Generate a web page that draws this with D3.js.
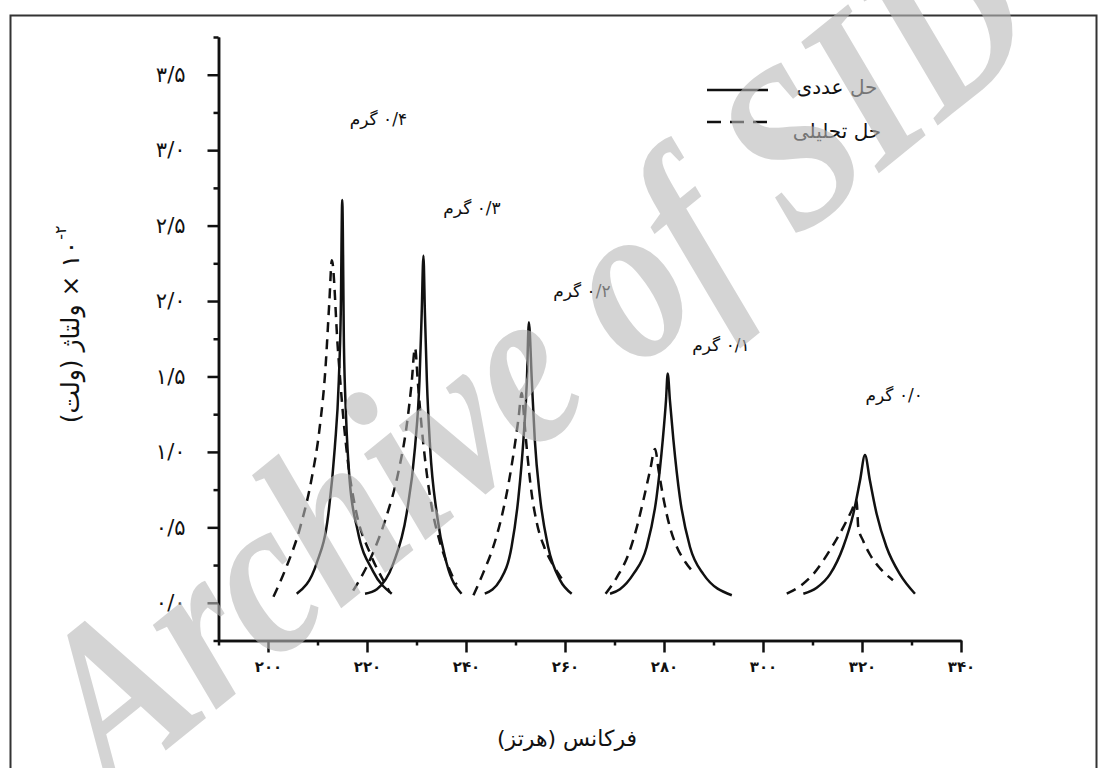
<!DOCTYPE html>
<html>
<head>
<meta charset="utf-8">
<script src="https://cdn.jsdelivr.net/npm/d3@7"></script>
<style>
  body { margin: 0; background: #fff; }
  svg text { font-family: "DejaVu Sans", sans-serif; fill: #111; }
</style>
</head>
<body>
<svg id="chart"></svg>
<script>
// mass labels (grams) for the five resonance peaks
var massLabels = ["۰/۴ گرم", "۰/۳ گرم", "۰/۲ گرم", "۰/۱ گرم", "۰/۰ گرم"];
var legendLabels = ["حل عددی", "حل تحلیلی"];
var xTicks = [200, 220, 240, 260, 280, 300, 320, 340];
var yTicks = [0, 0.5, 1, 1.5, 2, 2.5, 3, 3.5];

// numerical solution (solid), frequency in Hz / voltage x 10^-2
var numF04 = [205.8, 209.8, 212.2, 213.5, 214.3, 214.7, 215.0, 215.35, 215.75, 216.5, 218.1, 221.2, 225.0];
var numV04 = [0.06, 0.26, 0.59, 1.03, 1.47, 1.92, 2.67, 1.69, 1.25, 0.81, 0.48, 0.21, 0.06];
var numF03 = [219.6, 222.0, 225.3, 228.0, 229.7, 230.6, 231.05, 231.4, 231.7, 232.1, 232.75, 234.1, 236.1, 239.1];
var numV03 = [0.06, 0.09, 0.26, 0.59, 1.03, 1.47, 1.92, 2.30, 1.92, 1.47, 1.03, 0.59, 0.26, 0.06];
var numF02 = [243.8, 246.9, 249.2, 250.6, 251.6, 252.3, 252.7, 253.3, 253.9, 254.95, 256.6, 259.0, 261.35];
var numV02 = [0.06, 0.15, 0.37, 0.70, 1.08, 1.47, 1.86, 1.47, 1.08, 0.70, 0.37, 0.15, 0.06];
var numF01 = [269.1, 271.1, 273.8, 276.5, 278.5, 279.75, 280.4, 280.75, 281.2, 281.9, 283.2, 285.25, 287.95, 293.7];
var numV01 = [0.06, 0.09, 0.19, 0.37, 0.70, 1.08, 1.34, 1.52, 1.34, 1.08, 0.70, 0.37, 0.19, 0.05];
var numF00 = [308.15, 310.85, 313.55, 316.2, 318.25, 319.6, 320.6, 321.6, 322.95, 324.95, 327.65, 330.7];
var numV00 = [0.06, 0.10, 0.19, 0.37, 0.59, 0.81, 0.98, 0.81, 0.59, 0.37, 0.19, 0.06];

// analytical solution (dashed)
var anaF04 = [201.1, 203.5, 206.5, 208.8, 210.4, 211.6, 212.4, 212.9, 214.1, 215.15, 216.2, 217.9, 220.6, 223.6, 224.6];
var anaV04 = [0.04, 0.22, 0.50, 0.82, 1.15, 1.55, 2.00, 2.27, 1.69, 1.25, 0.92, 0.59, 0.33, 0.13, 0.07];
var anaF03 = [217.2, 220.8, 223.8, 226.3, 228.0, 229.0, 229.7, 230.3, 231.0, 231.8, 233.0, 234.5, 236.3, 238.1];
var anaV03 = [0.08, 0.30, 0.56, 0.86, 1.17, 1.45, 1.69, 1.45, 1.18, 0.93, 0.65, 0.43, 0.25, 0.12];
var anaF02 = [241.5, 243.5, 245.5, 247.2, 248.6, 249.7, 250.6, 251.25, 251.8, 252.4, 253.2, 254.3, 255.8, 257.6, 260.0];
var anaV02 = [0.05, 0.20, 0.37, 0.57, 0.79, 1.01, 1.22, 1.39, 1.20, 0.98, 0.74, 0.53, 0.37, 0.25, 0.13];
var anaF01 = [268.2, 270.5, 272.8, 274.5, 275.9, 277.2, 278.2, 278.9, 279.9, 281.2, 282.6, 284.3, 286.0];
var anaV01 = [0.06, 0.17, 0.32, 0.50, 0.69, 0.88, 1.02, 0.88, 0.69, 0.50, 0.37, 0.27, 0.20];
var anaF00 = [304.8, 307.5, 310.15, 313.55, 316.2, 317.9, 318.9, 319.25, 320.25, 321.6, 323.6, 326.25];
var anaV00 = [0.06, 0.11, 0.19, 0.35, 0.50, 0.61, 0.68, 0.50, 0.41, 0.32, 0.23, 0.15];

var numF = [numF04, numF03, numF02, numF01, numF00];
var numV = [numV04, numV03, numV02, numV01, numV00];
var anaF = [anaF04, anaF03, anaF02, anaF01, anaF00];
var anaV = [anaV04, anaV03, anaV02, anaV01, anaV00];

// where the mass labels sit (data units)
var labelPos = [[222.3, 3.17], [241.2, 2.58], [263.4, 2.03], [291.5, 1.67], [326.5, 1.34]];

var width = 1099, height = 768;

var svg = d3.select("#chart")
  .attr("width", width)
  .attr("height", height);

svg.append("rect")
  .attr("x", 10.5).attr("y", 15.5)
  .attr("width", 1086).attr("height", 800)
  .attr("fill", "#fff")
  .attr("stroke", "#333")
  .attr("stroke-width", 2);

var x = d3.scaleLinear().domain([190, 340]).range([218.5, 961]);
var y = d3.scaleLinear().domain([-0.25, 3.75]).range([640.5, 37]);

function toFa(s) {
  return String(s).replace(/\d/g, function(d) { return "۰۱۲۳۴۵۶۷۸۹"[+d]; }).replace(".", "/");
}

// minor ticks
svg.append("g")
  .attr("class", "axis")
  .attr("transform", "translate(0," + y(-0.25) + ")")
  .call(d3.axisBottom(x).tickValues(d3.range(190, 340, 20)).tickSize(5).tickSizeOuter(0).tickFormat(""));
svg.append("g")
  .attr("class", "axis")
  .attr("transform", "translate(" + x(190) + ",0)")
  .call(d3.axisLeft(y).tickValues(d3.range(-0.25, 3.8, 0.5)).tickSize(5).tickSizeOuter(0).tickFormat(""));

// major ticks
var gx = svg.append("g")
  .attr("class", "axis")
  .attr("transform", "translate(0," + y(-0.25) + ")")
  .call(d3.axisBottom(x).tickValues(xTicks).tickSize(12).tickSizeOuter(0).tickPadding(9)
    .tickFormat(function(d) { return toFa(d); }));
gx.selectAll("text").style("font-size", "15px").style("font-weight", "bold");

var gy = svg.append("g")
  .attr("class", "axis")
  .attr("transform", "translate(" + x(190) + ",0)")
  .call(d3.axisLeft(y).tickValues(yTicks).tickSize(11).tickSizeOuter(0).tickPadding(22)
    .tickFormat(function(d) { return toFa(d.toFixed(1)); }));
gy.selectAll("text").style("font-size", "21px");

svg.selectAll(".axis path, .axis line").attr("stroke", "#111").attr("stroke-width", 2.5);

// curves
var line = d3.line()
  .x(function(d) { return x(d[0]); })
  .y(function(d) { return y(d[1]); })
  .curve(d3.curveMonotoneX);

var series = [];
numF.forEach(function(f, i) {
  series.push({ dash: false, pts: f.map(function(v, j) { return [v, numV[i][j]]; }) });
  series.push({ dash: true, pts: anaF[i].map(function(v, j) { return [v, anaV[i][j]]; }) });
});

svg.append("g").selectAll("path")
  .data(series)
  .enter().append("path")
  .attr("d", function(d) { return line(d.pts); })
  .attr("fill", "none")
  .attr("stroke", "#111")
  .attr("stroke-width", 2.5)
  .attr("stroke-dasharray", function(d) { return d.dash ? "10,7" : null; });

// mass labels
svg.append("g").selectAll("text")
  .data(massLabels)
  .enter().append("text")
  .attr("x", function(d, i) { return x(labelPos[i][0]); })
  .attr("y", function(d, i) { return y(labelPos[i][1]); })
  .attr("text-anchor", "middle")
  .style("direction", "rtl")
  .style("font-size", "17px")
  .text(function(d) { return d; });

// legend
var legend = svg.append("g");
legendLabels.forEach(function(lab, i) {
  var ly = i === 0 ? 90 : 122;
  legend.append("line")
    .attr("x1", 707).attr("x2", 768)
    .attr("y1", ly).attr("y2", ly)
    .attr("stroke", "#111").attr("stroke-width", 2.5)
    .attr("stroke-dasharray", i === 0 ? null : "14,9");
  legend.append("text")
    .attr("x", 837).attr("y", i === 0 ? 94 : 138)
    .attr("text-anchor", "middle")
    .style("direction", "rtl")
    .style("font-size", "20px")
    .text(lab);
});

// axis titles
svg.append("text")
  .attr("x", 567).attr("y", 746)
  .attr("text-anchor", "middle")
  .style("direction", "rtl")
  .style("font-size", "22px")
  .text("فرکانس (هرتز)");

var yt = svg.append("g").attr("transform", "translate(70,323) rotate(-90)");
var ytMain = yt.append("text")
  .attr("x", -9).attr("y", 9)
  .attr("text-anchor", "middle")
  .style("direction", "rtl")
  .style("font-size", "25px")
  .text("۱۰ × ولتاژ (ولت)");
var bb = ytMain.node().getBBox();
yt.append("text")
  .attr("x", bb.x + bb.width + 1).attr("y", -4)
  .style("font-size", "16px")
  .text("-۲");

// watermark over everything
svg.append("text")
  .attr("transform", "translate(580,415) rotate(-39) scale(0.84,1)")
  .attr("text-anchor", "middle")
  .style("font-family", "'Liberation Serif', serif")
  .style("font-weight", "bold")
  .style("font-style", "italic")
  .style("font-size", "230px")
  .style("fill", "#b8b8b8")
  .style("opacity", 0.6)
  .text("Archive of SID");
</script>
</body>
</html>
